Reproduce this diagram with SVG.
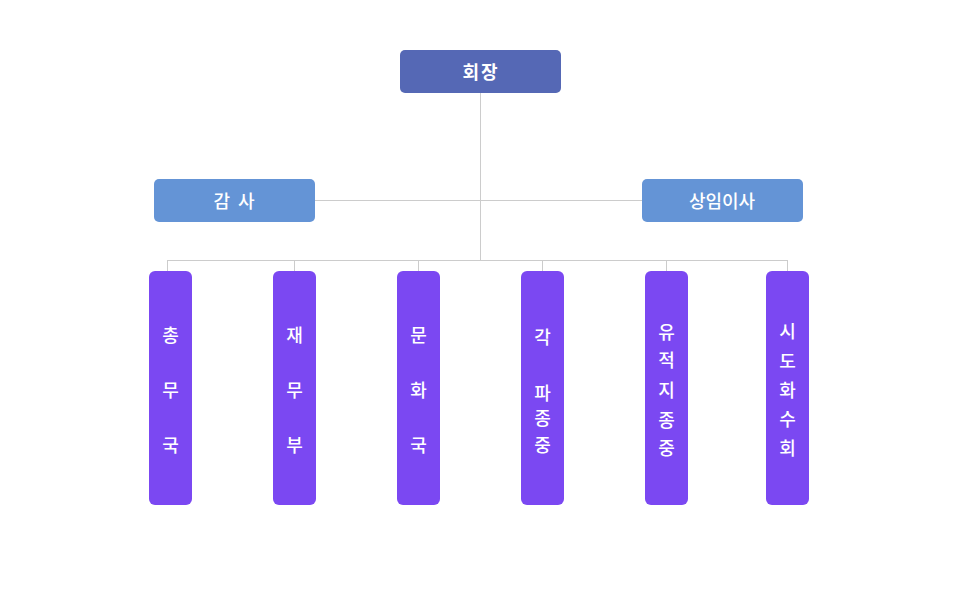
<svg xmlns="http://www.w3.org/2000/svg" width="960" height="600" viewBox="0 0 960 600">
<style>
.t{font-family:"Noto Sans CJK KR","Noto Sans",sans-serif;fill:#fff;font-size:18px;text-anchor:middle;dominant-baseline:central;font-weight:500}
.b{font-weight:700}
.top{fill:#5568b5}
.mid{fill:#6494d6}
.dept{fill:#7b48f2}
.ln{stroke:#cccccc;stroke-width:1;fill:none}
</style>
<rect width="960" height="600" fill="#fff"/>
<g id="connectors">
<path class="ln" d="M480.5 93V260M315 200.5H642M167.5 260.5H787.5M167.5 260V271M294.5 260V271M418.5 260V271M542.5 260V271M666.5 260V271M787.5 260V271"/>
</g>
<g id="n-chair"><rect class="top" x="400" y="50" width="161" height="43" rx="5"/><text class="t b" x="481" y="71" letter-spacing="2">회장</text></g>
<g id="n-audit"><rect class="mid" x="154" y="179" width="161" height="43" rx="5"/><text class="t" x="235" y="200" letter-spacing="2">감 사</text></g>
<g id="n-exec"><rect class="mid" x="642" y="179" width="161" height="43" rx="5"/><text class="t" x="722" y="200">상임이사</text></g>
<g id="n-d1"><rect class="dept" x="149" y="271" width="43" height="234" rx="6"/><text class="t" x="170.5" y="334">총</text><text class="t" x="170.5" y="389">무</text><text class="t" x="170.5" y="444">국</text></g>
<g id="n-d2"><rect class="dept" x="273" y="271" width="43" height="234" rx="6"/><text class="t" x="294.5" y="334">재</text><text class="t" x="294.5" y="389">무</text><text class="t" x="294.5" y="444">부</text></g>
<g id="n-d3"><rect class="dept" x="397" y="271" width="43" height="234" rx="6"/><text class="t" x="418.5" y="334">문</text><text class="t" x="418.5" y="389">화</text><text class="t" x="418.5" y="444">국</text></g>
<g id="n-d4"><rect class="dept" x="521" y="271" width="43" height="234" rx="6"/><text class="t" x="542.5" y="336">각</text><text class="t" x="542.5" y="392">파</text><text class="t" x="542.5" y="417">종</text><text class="t" x="542.5" y="444">중</text></g>
<g id="n-d5"><rect class="dept" x="645" y="271" width="43" height="234" rx="6"/><text class="t" x="666.5" y="331">유</text><text class="t" x="666.5" y="359">적</text><text class="t" x="666.5" y="389">지</text><text class="t" x="666.5" y="419">종</text><text class="t" x="666.5" y="447">중</text></g>
<g id="n-d6"><rect class="dept" x="766" y="271" width="43" height="234" rx="6"/><text class="t" x="787.5" y="330">시</text><text class="t" x="787.5" y="360">도</text><text class="t" x="787.5" y="389">화</text><text class="t" x="787.5" y="418">수</text><text class="t" x="787.5" y="447">회</text></g>
</svg>
